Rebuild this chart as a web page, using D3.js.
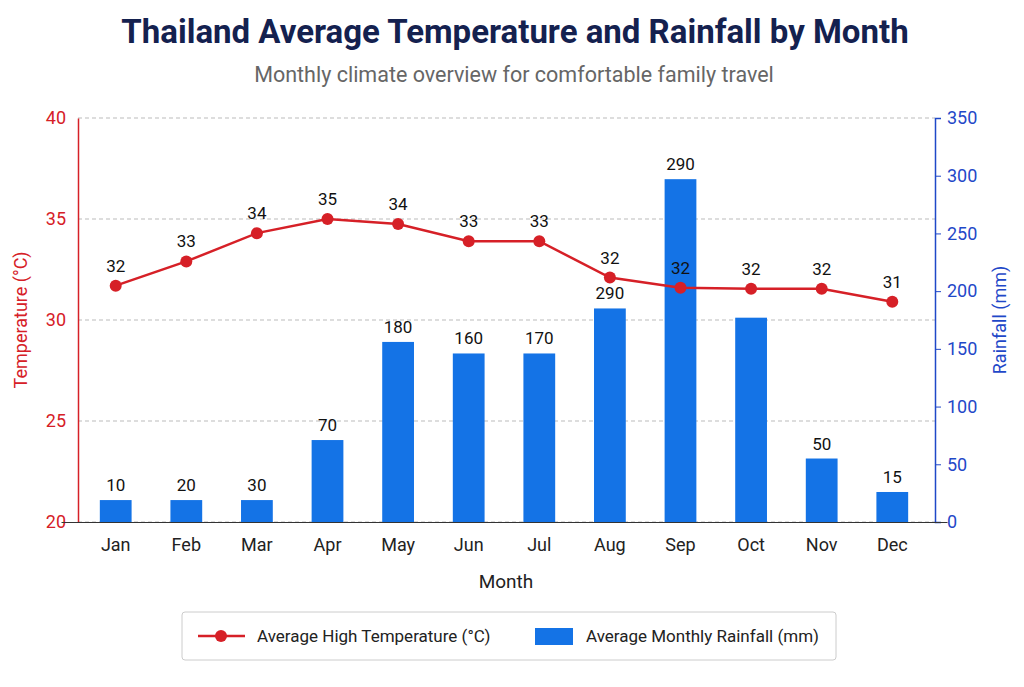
<!DOCTYPE html>
<html><head><meta charset="utf-8">
<script src="https://cdn.jsdelivr.net/npm/d3@7"></script>
<style>body{margin:0;background:#fff;font-family:Roboto,"Noto Sans",sans-serif;}</style>
</head><body><svg id="chart"></svg>
<script>
var months = ["Jan","Feb","Mar","Apr","May","Jun","Jul","Aug","Sep","Oct","Nov","Dec"];
var tempValues = [31.7,32.9,34.3,35.0,34.75,33.9,33.9,32.1,31.6,31.55,31.55,30.9];
var tempLabels = ["32","33","34","35","34","33","33","32","32","32","32","31"];
var rainValues = [19,19,19,71,156,146,146,185,297,177,55,26];
var rainLabels = ["10","20","30","70","180","160","170","290","290","","50","15"];
var tempTicks = [20,25,30,35,40];
var rainTicks = [0,50,100,150,200,250,300,350];

var W = 1024, H = 687;
var m = {top:118, bottom:165, left:78, right:89};
var red = "#d62027", blue = "#1473e6", axisBlue = "#1f48c8";

var svg = d3.select("#chart").attr("width", W).attr("height", H);

var x = d3.scaleBand().domain(months).range([61, 947]).padding(0.55);
var yT = d3.scaleLinear().domain([20,40]).range([H-m.bottom, m.top]);
var yR = d3.scaleLinear().domain([0,350]).range([H-m.bottom, m.top]);
var cx = function(d){ return x(d) + x.bandwidth()/2; };

//title
svg.append("text").attr("x", W/2 + 3).attr("y", 43).attr("text-anchor","middle")
  .attr("font-size", 33).attr("font-weight","bold").attr("fill","#14214f")
  .text("Thailand Average Temperature and Rainfall by Month");
svg.append("text").attr("x", W/2 + 2).attr("y", 82).attr("text-anchor","middle")
  .attr("font-size", 21.5).attr("fill","#666")
  .text("Monthly climate overview for comfortable family travel");

//grid
svg.append("g").selectAll("line").data(tempTicks).enter().append("line")
  .attr("x1", m.left).attr("x2", W-m.right)
  .attr("y1", function(d){return yT(d);}).attr("y2", function(d){return yT(d);})
  .attr("stroke","#bbb").attr("stroke-dasharray","4,3");

//bars
svg.append("g").selectAll("rect").data(months).enter().append("rect")
  .attr("x", function(d){return x(d);}).attr("width", x.bandwidth())
  .attr("y", function(d,i){return yR(rainValues[i]);})
  .attr("height", function(d,i){return yR(0)-yR(rainValues[i]);})
  .attr("fill", blue);
svg.append("g").selectAll("text").data(months).enter().append("text")
  .attr("x", cx).attr("y", function(d,i){return yR(rainValues[i]) - 9;})
  .attr("text-anchor","middle").attr("font-size",17).attr("fill","#111")
  .text(function(d,i){return rainLabels[i];});

//temperature line
var line = d3.line().x(function(d,i){return cx(months[i]);}).y(function(d){return yT(d);});
svg.append("path").datum(tempValues).attr("d", line)
  .attr("fill","none").attr("stroke", red).attr("stroke-width", 2.5);
svg.append("g").selectAll("circle").data(tempValues).enter().append("circle")
  .attr("cx", function(d,i){return cx(months[i]);}).attr("cy", function(d){return yT(d);})
  .attr("r", 6).attr("fill", red);
svg.append("g").selectAll("text").data(tempValues).enter().append("text")
  .attr("x", function(d,i){return cx(months[i]);}).attr("y", function(d){return yT(d) - 14;})
  .attr("text-anchor","middle").attr("font-size",17).attr("fill","#111")
  .text(function(d,i){return tempLabels[i];});

//axes
var axL = svg.append("g").attr("transform","translate("+m.left+",0)")
  .call(d3.axisLeft(yT).tickValues(tempTicks).tickSize(0).tickPadding(12));
axL.select(".domain").attr("stroke", red).attr("stroke-width",1.5);
axL.selectAll("text").attr("font-size",18).attr("fill", red).attr("font-family","Roboto");

var axR = svg.append("g").attr("transform","translate("+(W-m.right)+",0)")
  .call(d3.axisRight(yR).tickValues(rainTicks).tickSize(6).tickPadding(6));
axR.select(".domain").attr("stroke", axisBlue).attr("stroke-width",1.5);
axR.selectAll("line").attr("stroke", axisBlue);
axR.selectAll("text").attr("font-size",18).attr("fill", axisBlue).attr("font-family","Roboto");

var axB = svg.append("g").attr("transform","translate(0,"+(H-m.bottom)+")")
  .call(d3.axisBottom(x).tickSize(0).tickPadding(16));
axB.select(".domain").attr("stroke","#333");
axB.selectAll("text").attr("font-size",18).attr("fill","#222").attr("font-family","Roboto");

//axis titles
svg.append("text").attr("transform","translate(27,"+((m.top+H-m.bottom)/2)+") rotate(-90)")
  .attr("text-anchor","middle").attr("font-size",18).attr("fill", red).text("Temperature (°C)");
svg.append("text").attr("transform","translate(1006,"+((m.top+H-m.bottom)/2)+") rotate(-90)")
  .attr("text-anchor","middle").attr("font-size",18).attr("fill", axisBlue).text("Rainfall (mm)");
svg.append("text").attr("x", 506).attr("y", 588).attr("text-anchor","middle")
  .attr("font-size",19).attr("fill","#222").text("Month");

//legend
var lg = svg.append("g");
lg.append("rect").attr("x",182).attr("y",612).attr("width",654).attr("height",48).attr("rx",3)
  .attr("fill","#fff").attr("stroke","#ccc");
lg.append("line").attr("x1",198).attr("x2",245).attr("y1",636).attr("y2",636)
  .attr("stroke", red).attr("stroke-width",2.5);
lg.append("circle").attr("cx",221).attr("cy",636).attr("r",6).attr("fill", red);
lg.append("text").attr("x",257).attr("y",642).attr("font-size",17).attr("fill","#222")
  .text("Average High Temperature (°C)");
lg.append("rect").attr("x",535).attr("y",628).attr("width",38).attr("height",17).attr("fill", blue);
lg.append("text").attr("x",586).attr("y",642).attr("font-size",17).attr("fill","#222")
  .text("Average Monthly Rainfall (mm)");
</script></body></html>
